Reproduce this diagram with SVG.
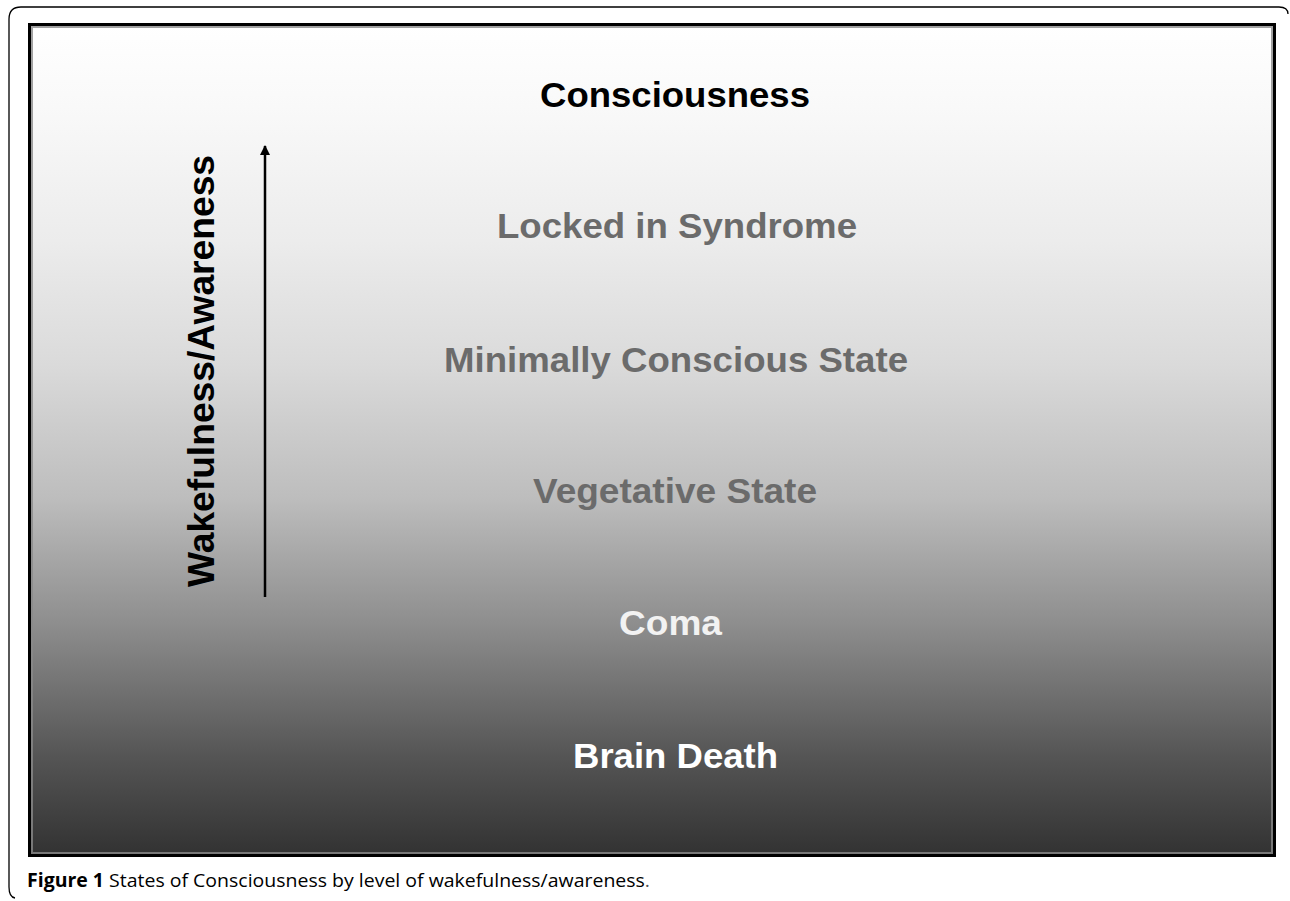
<svg xmlns="http://www.w3.org/2000/svg" width="1290" height="901" viewBox="0 0 1290 901">
<defs>
<linearGradient id="bg" x1="0" y1="0" x2="0" y2="1">
<stop offset="0" stop-color="#ffffff"/>
<stop offset="0.1" stop-color="#f9f9f9"/>
<stop offset="0.26" stop-color="#ececec"/>
<stop offset="0.41" stop-color="#dadada"/>
<stop offset="0.57" stop-color="#bdbdbd"/>
<stop offset="0.72" stop-color="#8e8e8e"/>
<stop offset="0.88" stop-color="#555555"/>
<stop offset="1" stop-color="#323232"/>
</linearGradient>
<marker id="ah" viewBox="0 0 10 10" refX="9" refY="5" markerWidth="10" markerHeight="10" markerUnits="userSpaceOnUse" orient="auto">
<path d="M0,0 L10,5 L0,10 z" fill="#000"/>
</marker>
<style>
.lbl{font-family:"Liberation Sans",Arial,sans-serif;font-weight:bold;text-anchor:middle}
.gray{fill:#6b6b6b}
.cap{font-family:"Open Sans","Noto Sans",sans-serif;font-size:19px;fill:#000}
</style>
</defs>
<path d="M1288,14 Q1288,7 1279,7 L21,7 Q9,7 9,19 L9,887 Q9,897 15,898" fill="none" stroke="#000" stroke-width="1.3"/>
<rect x="29.5" y="24.5" width="1245" height="831" fill="url(#bg)" stroke="#000" stroke-width="3"/>
<rect x="32" y="27" width="1240" height="826" fill="none" stroke="#8a8a8a" stroke-width="2" opacity="0.8"/>
<g id="connectors">
<line x1="265" y1="597" x2="265" y2="146" stroke="#000" stroke-width="2.5" marker-end="url(#ah)"/>
</g>
<g id="axis-label">
<text class="lbl" transform="translate(214,371) rotate(-90)" font-size="36.5" fill="#000" textLength="432" lengthAdjust="spacingAndGlyphs">Wakefulness/Awareness</text>
</g>
<g id="consciousness"><text class="lbl" x="675" y="107" font-size="35.5" fill="#000" textLength="270" lengthAdjust="spacingAndGlyphs">Consciousness</text></g>
<g id="locked-in"><text class="lbl gray" x="677" y="238" font-size="35.5" textLength="360" lengthAdjust="spacingAndGlyphs">Locked in Syndrome</text></g>
<g id="mcs"><text class="lbl gray" x="676" y="372" font-size="35.5" textLength="464" lengthAdjust="spacingAndGlyphs">Minimally Conscious State</text></g>
<g id="vegetative"><text class="lbl gray" x="675" y="503" font-size="35.5" textLength="284" lengthAdjust="spacingAndGlyphs">Vegetative State</text></g>
<g id="coma"><text class="lbl" x="670.5" y="635" font-size="35.5" fill="#f2f2f2" textLength="103" lengthAdjust="spacingAndGlyphs">Coma</text></g>
<g id="brain-death"><text class="lbl" x="675.5" y="768" font-size="35.5" fill="#ffffff" textLength="205" lengthAdjust="spacingAndGlyphs">Brain Death</text></g>
<text class="cap" x="27" y="887" textLength="623" lengthAdjust="spacingAndGlyphs"><tspan font-weight="bold">Figure 1</tspan> States of Consciousness by level of wakefulness/awareness<tspan fill="#555">.</tspan></text>
</svg>
